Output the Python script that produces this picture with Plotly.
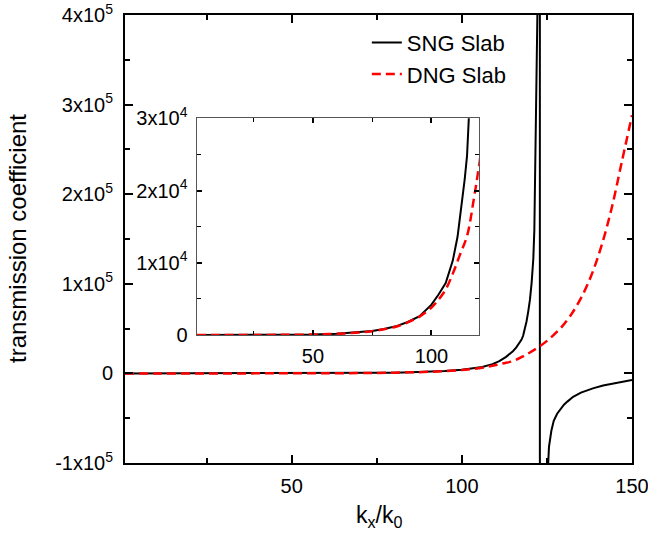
import plotly.graph_objects as go

# Transmission coefficient vs normalised transverse wavenumber kx/k0
# SNG slab: resonant branch, pole near kx/k0 ~ 122.9
kx_sng = [1, 10, 20, 30, 40, 50, 60, 70, 75, 80, 85, 90, 95, 100, 103, 106,
          109, 111, 113, 114, 115, 116, 116.5, 117, 117.5, 118, 118.5, 119,
          119.5, 120, 120.5, 121, 121.3, 121.64, 121.9, 122.1, 122.3, 122.9,
          122.95, 124.5, 125.2, 125.6, 126.3, 127, 128, 129, 130, 131, 132.7,
          135, 138.5, 141.5, 144.4, 147, 150]
t_sng = [1, 2, 6, 13, 30, 70, 160, 370, 550, 820, 1200, 1800, 2600, 4200,
         5600, 7200, 10300, 13600, 18500, 21500, 24800, 29000, 31500, 34000,
         37500, 42000, 49000, 58000, 69000, 82000, 101000, 128000, 160000,
         230000, 300000, 360000, 430000, 3000000, -3000000, -170000, -100000,
         -82000, -64000, -53000, -45000, -39500, -35000, -31500, -26100,
         -21500, -16700, -13500, -11200, -9300, -7400]

# DNG slab: smooth monotonic growth
kx_dng = [1, 10, 20, 30, 40, 50, 60, 70, 75, 80, 85, 90, 95, 100, 103, 106,
          109, 112, 115, 118, 120, 123, 126, 129, 132, 135, 138, 141, 144,
          147, 150]
t_dng = [1, 2, 6, 13, 30, 70, 160, 360, 530, 800, 1150, 1750, 2550, 3800,
         4900, 6300, 8500, 11100, 13700, 19100, 23300, 30500, 39500, 50500,
         65000, 84000, 109000, 142000, 184000, 236000, 288000]

# Axis ticks
main_xticks = [50, 100, 150]
main_xminor = [25, 75, 125]
main_yticks = [-1e5, 0, 1e5, 2e5, 3e5, 4e5]
main_ytext = ["-1x10<sup>5</sup>", "0", "1x10<sup>5</sup>", "2x10<sup>5</sup>",
              "3x10<sup>5</sup>", "4x10<sup>5</sup>"]
main_yminor = [-5e4, 5e4, 1.5e5, 2.5e5, 3.5e5]
inset_xticks = [50, 100]
inset_xminor = [25, 75]
inset_yticks = [0, 1e4, 2e4, 3e4]
inset_ytext = ["0", "1x10<sup>4</sup>", "2x10<sup>4</sup>", "3x10<sup>4</sup>"]
inset_yminor = [5e3, 1.5e4, 2.5e4]

FONT = "Arial, Liberation Sans, sans-serif"
TICK_SIZE = 20
sng_line = dict(color="black", width=2)
dng_line = dict(color="#ff0000", width=2.5, dash="9px,5px")

fig = go.Figure()
fig.add_trace(go.Scatter(x=kx_sng, y=t_sng, mode="lines", name="SNG Slab",
                         line=sng_line, xaxis="x", yaxis="y"))
fig.add_trace(go.Scatter(x=kx_dng, y=t_dng, mode="lines", name="DNG Slab",
                         line=dng_line, line_shape="spline", xaxis="x", yaxis="y"))
# inset copies
fig.add_trace(go.Scatter(x=kx_sng, y=t_sng, mode="lines", showlegend=False,
                         line=sng_line, xaxis="x2", yaxis="y2"))
fig.add_trace(go.Scatter(x=kx_dng, y=t_dng, mode="lines", showlegend=False,
                         line=dng_line, line_shape="spline", xaxis="x2", yaxis="y2"))

def axis_style(lw, lc, tl):
    return dict(showline=True, linecolor=lc, linewidth=lw, mirror="allticks",
                ticks="inside", ticklen=tl, tickwidth=1.5, tickcolor="black",
                showgrid=False, zeroline=False, automargin=False,
                ticklabeloverflow="allow",
                tickfont=dict(family=FONT, size=TICK_SIZE, color="black"))

fig.update_layout(
    width=648, height=538,
    margin=dict(l=125, r=16, t=15, b=75),
    plot_bgcolor="white", paper_bgcolor="white",
    font=dict(family=FONT, color="black"),
    xaxis=dict(domain=[0, 1], range=[1, 150], tickvals=main_xticks,
               minor=dict(tickvals=main_xminor, ticks="inside", ticklen=5,
                          tickwidth=1.5, tickcolor="black"),
               ticklabelstandoff=4, **axis_style(2, "black", 8)),
    yaxis=dict(domain=[0, 1], range=[-1e5, 4e5], tickvals=main_yticks,
               ticktext=main_ytext,
               minor=dict(tickvals=main_yminor, ticks="inside", ticklen=5,
                          tickwidth=1.5, tickcolor="black"),
               ticklabelstandoff=6, **axis_style(2, "black", 8)),
    xaxis2=dict(domain=[0.1414, 0.698], anchor="y2", range=[1, 120],
                tickvals=inset_xticks,
                minor=dict(tickvals=inset_xminor, ticks="inside", ticklen=4,
                           tickwidth=1.2, tickcolor="black"),
                ticklabelstandoff=3, **axis_style(1.3, "#555555", 5)),
    yaxis2=dict(domain=[0.2857, 0.7694], anchor="x2", range=[0, 3e4],
                tickvals=inset_yticks, ticktext=inset_ytext,
                minor=dict(tickvals=inset_yminor, ticks="inside", ticklen=4,
                           tickwidth=1.2, tickcolor="black"),
                ticklabelstandoff=4, **axis_style(1.3, "#555555", 5)),
    legend=dict(x=0.477, y=0.985, xanchor="left", yanchor="top",
                bgcolor="rgba(0,0,0,0)", borderwidth=0,
                font=dict(family=FONT, size=22, color="black")),
    annotations=[
        dict(text="transmission coefficient", textangle=-90,
             xref="paper", yref="paper", x=-0.213, y=0.5,
             xanchor="center", yanchor="middle", showarrow=False,
             font=dict(family=FONT, size=24, color="black")),
        dict(text="k<sub>x</sub>/k<sub>0</sub>",
             xref="paper", yref="paper", x=0.5, y=-0.12,
             xanchor="center", yanchor="middle", showarrow=False,
             font=dict(family=FONT, size=23, color="black")),
    ],
)

fig.write_html("out.html")
